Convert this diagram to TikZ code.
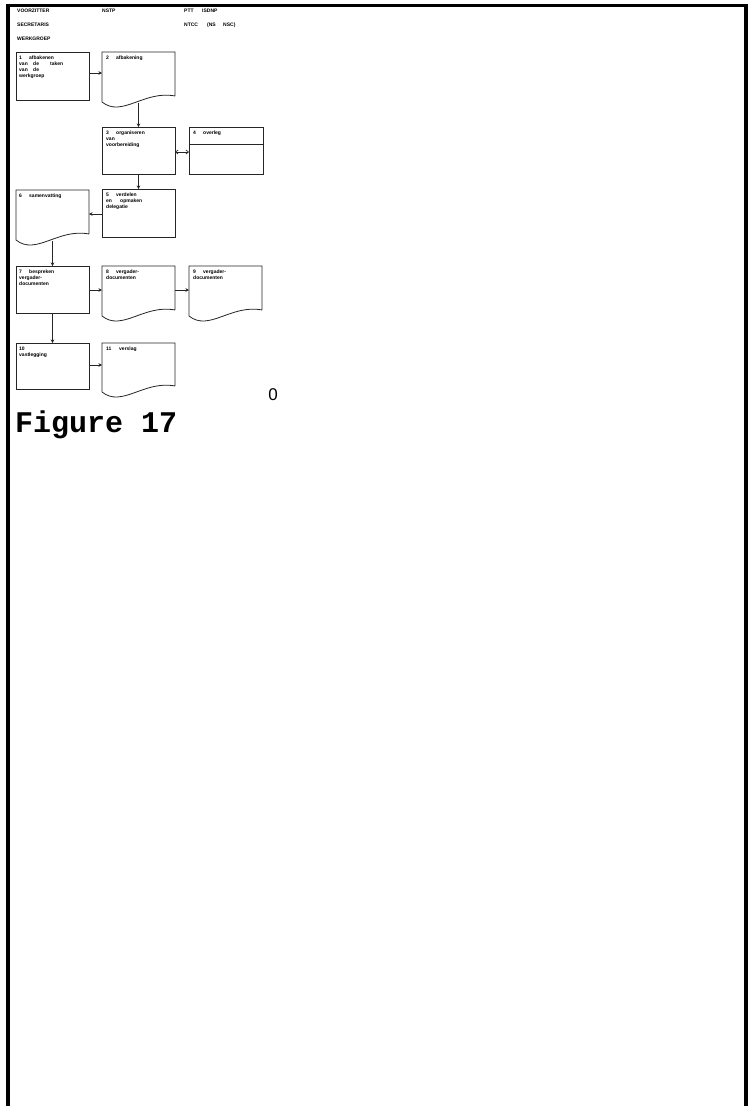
\documentclass[tikz,border=0pt]{standalone}
\usepackage{fontspec}
\setmainfont{Liberation Sans}
\newfontfamily\monobold{Liberation Mono}
\usetikzlibrary{arrows.meta}
\newcommand\tcol[2]{\makebox[#1][l]{#2}}
\newcommand\docoutline[1]{%
  \draw[docline] (#1.south east) -- (#1.north east) -- (#1.north west) -- ([yshift=-6pt]#1.south west)
    .. controls ([xshift=20pt,yshift=-22pt]#1.south west) and ([xshift=42pt,yshift=6pt]#1.south west) .. (#1.south east);}
\begin{document}
\begin{tikzpicture}[x=1pt,y=-1pt,
  boxbase/.style={anchor=north west, inner sep=0pt, outer sep=0pt, minimum width=73pt},
  box/.style={boxbase, draw=black!85, line width=0.8pt},
  ghost/.style={boxbase, draw=none},
  docline/.style={draw=black!85, line width=0.8pt},
  tiny/.style={font=\fontsize{5}{6}\selectfont\bfseries, anchor=north west, align=left, inner sep=0pt},
  head/.style={font=\fontsize{5}{6}\selectfont\bfseries, anchor=base west, inner sep=0pt},
  arr/.style={-{Stealth[length=3.5pt,width=3.5pt]}, line width=0.7pt, draw=black!85},
  darr/.style={{Straight Barb[length=2.5pt,width=4pt]}-{Straight Barb[length=2.5pt,width=4pt]}, line width=0.7pt, draw=black!85}]
\useasboundingbox (0,0) rectangle (754,1106);
\fill[white] (0,0) rectangle (754,1106);
% frame
\draw[line width=3.5pt] (8,1106) -- (8,5.5) -- (746,5.5) -- (746,1106);
% header
\node[head] (h1) at (17,12.5) {VOORZITTER};
\node[head] (h2) at (102,12.5) {NSTP};
\node[head] (h3) at (184,12.5) {\tcol{18pt}{PTT}ISDNP};
\node[head] (h4) at (17,26) {SECRETARIS};
\node[head] (h5) at (184,26) {\tcol{23pt}{NTCC}\tcol{16pt}{(NS}NSC)};
\node[head] (h6) at (17,40) {WERKGROEP};
% boxes
\node[box, minimum height=48pt] (n1) at (16,52) {};
\node[ghost, minimum height=44pt] (n2) at (102,52) {};
\node[box, minimum height=47pt] (n3) at (102,127) {};
\node[box, minimum height=47pt, minimum width=74pt] (n4) at (189,127) {};
\draw[docline] ([yshift=-17pt]n4.north west) -- ([yshift=-17pt]n4.north east);
\node[box, minimum height=48pt] (n5) at (102,189) {};
\node[ghost, minimum height=44pt] (n6) at (16,190) {};
\node[box, minimum height=47pt] (n7) at (16,266) {};
\node[ghost, minimum height=44pt] (n8) at (102,266) {};
\node[ghost, minimum height=44pt] (n9) at (189,266) {};
\node[box, minimum height=46pt] (n10) at (16,343) {};
\node[ghost, minimum height=43pt] (n11) at (102,343) {};
\docoutline{n2}
\docoutline{n6}
\docoutline{n8}
\docoutline{n9}
\docoutline{n11}
% texts
\node[tiny] (t1) at (19,55.5) {\tcol{10pt}{1}afbakenen\\\tcol{14pt}{van}\tcol{17pt}{de}taken\\\tcol{14pt}{van}de\\werkgroep};
\node[tiny] (t2) at (106,55.5) {\tcol{10pt}{2}afbakening};
\node[tiny] (t3) at (106,130.5) {\tcol{10pt}{3}organiseren\\van\\voorbereiding};
\node[tiny] (t4) at (193,130.5) {\tcol{10pt}{4}overleg};
\node[tiny] (t5) at (106,192.5) {\tcol{10pt}{5}verdelen\\\tcol{14pt}{en}opmaken\\delegatie};
\node[tiny] (t6) at (19,193.5) {\tcol{10pt}{6}samenvatting};
\node[tiny] (t7) at (19,269.5) {\tcol{10pt}{7}bespreken\\vergader-\\documenten};
\node[tiny] (t8) at (106,269.5) {\tcol{10pt}{8}vergader-\\documenten};
\node[tiny] (t9) at (193,269.5) {\tcol{10pt}{9}vergader-\\documenten};
\node[tiny] (t10) at (19,346.5) {10\\vastlegging};
\node[tiny] (t11) at (106,346.5) {\tcol{13pt}{11}verslag};
% connectors
\draw[arr] (n1.east |- 0,73) -- (n2.west |- 0,73);
\draw[arr] ([yshift=-7pt]n2.south) -- (n3.north);
\draw[darr] (n3.east |- 0,152) -- (n4.west |- 0,152);
\draw[arr] (n3.south) -- (n5.north);
\draw[arr] (n5.west |- 0,214) -- (n6.east |- 0,214);
\draw[arr] ([yshift=-7pt]n6.south) -- (n7.north);
\draw[arr] (n7.east |- 0,290) -- (n8.west |- 0,290);
\draw[arr] (n8.east |- 0,290) -- (n9.west |- 0,290);
\draw[arr] (n7.south) -- (n10.north);
\draw[arr] (n10.east |- 0,365) -- (n11.west |- 0,365);
% bottom labels
\node[font=\fontsize{17}{20}\selectfont, anchor=base, inner sep=0pt] (zero) at (273,400) {0};
\node[font=\monobold\bfseries\fontsize{30}{34}\selectfont, anchor=base west, inner sep=0pt] (fig) at (15,432) {Figure 17};
\end{tikzpicture}
\end{document}
